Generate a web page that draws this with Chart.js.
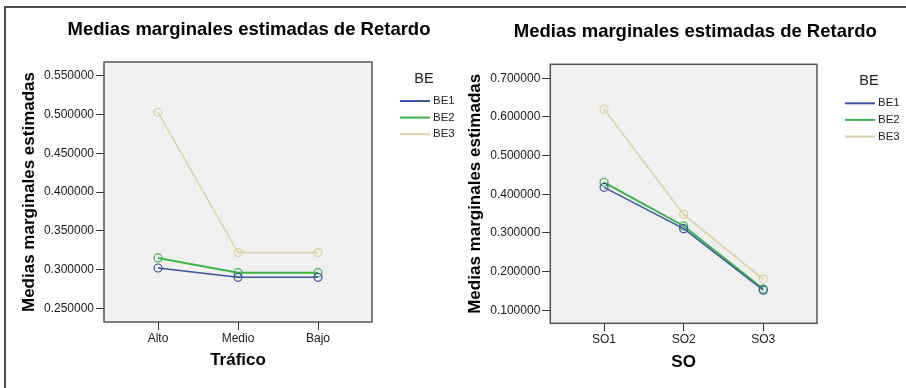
<!DOCTYPE html>
<html>
<head>
<meta charset="utf-8">
<script src="https://cdn.jsdelivr.net/npm/chart.js@4"></script>
<style>
  html, body { margin: 0; padding: 0; background: #fff; }
  #figura { position: relative; width: 906px; height: 388px; overflow: hidden; }
  #marco { position: absolute; left: 4px; top: 6px; right: -4px; bottom: -4px; border-top: 2px solid #4a4a4a; border-left: 2px solid #4a4a4a; }
  canvas { position: absolute; top: 0; }
  #graficoTrafico { left: 0; }
  #graficoSO { left: 446px; }
</style>
</head>
<body>
<div id="figura">
  <div id="marco"></div>
  <canvas id="graficoTrafico" width="460" height="388"></canvas>
  <canvas id="graficoSO" width="460" height="388"></canvas>
</div>
<script>
const titulo = "Medias marginales estimadas de Retardo";
const tituloY = "Medias marginales estimadas";
const tituloLeyenda = "BE";
const series = ["BE1", "BE2", "BE3"];

// Tráfico
const trafico = ["Alto", "Medio", "Bajo"];
const be1Trafico = [0.302, 0.290, 0.290];
const be2Trafico = [0.315, 0.296, 0.296];
const be3Trafico = [0.503, 0.322, 0.322];
const ticksTrafico = [0.25, 0.30, 0.35, 0.40, 0.45, 0.50, 0.55];

// SO
const so = ["SO1", "SO2", "SO3"];
const be1SO = [0.418, 0.311, 0.152];
const be2SO = [0.431, 0.318, 0.155];
const be3SO = [0.620, 0.348, 0.180];
const ticksSO = [0.1, 0.2, 0.3, 0.4, 0.5, 0.6, 0.7];

const colores = ["#3d52a0", "#3bb44a", "#dcd3a4"];
const grosores = [1.4, 2, 1.6];
const fuente = "'Liberation Sans', Arial, sans-serif";

Chart.defaults.font.family = fuente;

// fondo gris, marco, título y leyenda estilo SPSS
const decorado = {
  id: "decorado",
  beforeDraw(chart) {
    const { ctx, chartArea: a } = chart;
    ctx.save();
    ctx.fillStyle = "#f0f0f0";
    ctx.fillRect(a.left, a.top, a.right - a.left, a.bottom - a.top);
    ctx.restore();
  },
  afterDraw(chart) {
    const { ctx, chartArea: a } = chart;
    ctx.save();
    ctx.strokeStyle = "#555";
    ctx.lineWidth = 1.5;
    ctx.strokeRect(a.left, a.top, a.right - a.left, a.bottom - a.top);

    ctx.fillStyle = "#000";
    ctx.textAlign = "center";
    ctx.textBaseline = "middle";
    ctx.font = "bold 18.5px " + fuente;
    ctx.fillText(titulo, a.left + 145, a.top - 32);

    ctx.font = "14.5px " + fuente;
    ctx.fillStyle = "#222";
    ctx.fillText(tituloLeyenda, a.right + 52, a.top + 16.5);

    ctx.textAlign = "left";
    ctx.font = "11.5px " + fuente;
    chart.data.datasets.forEach((ds, i) => {
      const y = a.top + 39 + i * 16.6;
      ctx.strokeStyle = ds.borderColor;
      ctx.lineWidth = 2;
      ctx.beginPath();
      ctx.moveTo(a.right + 28, y);
      ctx.lineTo(a.right + 58, y);
      ctx.stroke();
      ctx.fillStyle = "#222";
      ctx.fillText(ds.label, a.right + 61, y);
    });
    ctx.restore();
  }
};

function crearGrafico(id, categorias, valores, ticksY, tituloX, geo) {
  const paso = ticksY[1] - ticksY[0];
  const datasets = series.map((nombre, i) => ({
    label: nombre,
    data: valores[i].map((v, j) => ({ x: j, y: v })),
    borderColor: colores[i],
    borderWidth: grosores[i],
    pointRadius: 4,
    pointBorderWidth: 1.2,
    pointBackgroundColor: "rgba(0,0,0,0)",
    pointBorderColor: colores[i],
    tension: 0
  }));

  return new Chart(document.getElementById(id), {
    type: "line",
    data: { datasets },
    options: {
      responsive: false,
      animation: false,
      layout: { padding: { top: geo.top, right: geo.right, bottom: geo.bottom, left: 0 } },
      plugins: { legend: { display: false }, tooltip: { enabled: false } },
      scales: {
        x: {
          type: "linear",
          min: -0.675,
          max: categorias.length - 1 + 0.675,
          afterFit: s => { s.height = geo.ejeX; },
          grid: { drawOnChartArea: false, drawTicks: true, tickLength: 8, color: "#333" },
          border: { display: false },
          ticks: {
            stepSize: 1,
            includeBounds: false,
            autoSkip: false,
            maxRotation: 0,
            padding: 1,
            color: "#1a1a1a",
            font: { size: 12 },
            callback: v => Number.isInteger(v) ? categorias[v] : null
          },
          title: {
            display: true,
            text: tituloX,
            color: "#000",
            font: { size: 17, weight: "bold" },
            padding: { top: 0, bottom: 0 }
          }
        },
        y: {
          min: geo.yMin,
          max: geo.yMax,
          afterFit: s => { s.width = geo.ejeY; },
          grid: { drawOnChartArea: false, drawTicks: true, tickLength: 8, color: "#333" },
          border: { display: false },
          ticks: {
            stepSize: paso,
            includeBounds: false,
            padding: 2,
            color: "#1a1a1a",
            font: { size: 12 },
            callback: v => v.toFixed(6)
          },
          title: {
            display: true,
            text: tituloY,
            color: "#000",
            font: { size: 17, weight: "bold" },
            padding: { top: 18.8, bottom: 0 }
          }
        }
      }
    },
    plugins: [decorado]
  });
}

crearGrafico("graficoTrafico", trafico, [be1Trafico, be2Trafico, be3Trafico], ticksTrafico, "Tráfico",
  { top: 62, right: 88, bottom: 17.8, ejeX: 48.2, ejeY: 104, yMin: 0.2323, yMax: 0.568 });

crearGrafico("graficoSO", so, [be1SO, be2SO, be3SO], ticksSO, "SO",
  { top: 64.3, right: 89, bottom: 15.8, ejeX: 48.9, ejeY: 104.3, yMin: 0.0664, yMax: 0.736 });
</script>
</body>
</html>
